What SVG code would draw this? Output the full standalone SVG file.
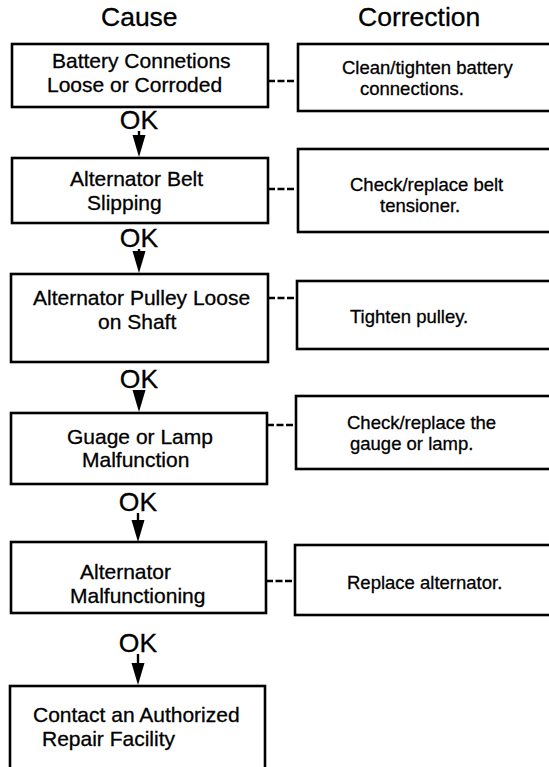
<svg xmlns="http://www.w3.org/2000/svg" width="549" height="767" viewBox="0 0 549 767">
<style>
.box{fill:#fff;stroke:#000;stroke-width:2.6}
.t{font-family:"Liberation Sans",Arial,sans-serif;font-size:21px;fill:#000;stroke:#000;stroke-width:0.3}
.c{font-family:"Liberation Sans",Arial,sans-serif;font-size:18.5px;fill:#000;stroke:#000;stroke-width:0.3}
.h{font-family:"Liberation Sans",Arial,sans-serif;font-size:26.5px;fill:#000;stroke:#000;stroke-width:0.3}
.ok{font-family:"Liberation Sans",Arial,sans-serif;font-size:26.5px;fill:#000;stroke:#000;stroke-width:0.3;text-anchor:middle}
.arr{stroke:#000;stroke-width:2.4;fill:none;marker-end:url(#ah)}
.dash{stroke:#000;stroke-width:2.6;stroke-dasharray:7 2.5;fill:none}
</style>
<defs>
<marker id="ah" markerUnits="userSpaceOnUse" markerWidth="22" markerHeight="14" refX="16" refY="7" orient="auto">
<path d="M0,0.5 L22,7 L0,13.5 z" fill="#000"/>
</marker>
</defs>
<rect width="549" height="767" fill="#fff"/>
<g id="headings">
<text class="h" x="101" y="26">Cause</text>
<text class="h" x="358" y="26">Correction</text>
</g>
<g id="connectors">
<line class="arr" x1="139" y1="131" x2="139" y2="151"/>
<line class="arr" x1="139" y1="249" x2="139" y2="267"/>
<line class="arr" x1="139" y1="390" x2="139" y2="406"/>
<line class="arr" x1="138" y1="513" x2="138" y2="536"/>
<line class="arr" x1="138" y1="654" x2="138" y2="679"/>
<line class="dash" x1="268" y1="81" x2="294" y2="81"/>
<line class="dash" x1="268" y1="189" x2="294" y2="189"/>
<line class="dash" x1="268" y1="298" x2="294" y2="298"/>
<line class="dash" x1="267" y1="425" x2="293" y2="425"/>
<line class="dash" x1="266" y1="581" x2="292" y2="581"/>
<text class="ok" x="139" y="129">OK</text>
<text class="ok" x="139" y="247">OK</text>
<text class="ok" x="139" y="388">OK</text>
<text class="ok" x="138" y="511">OK</text>
<text class="ok" x="138" y="652">OK</text>
</g>
<g id="cause1">
<rect class="box" x="12" y="44" width="256" height="63"/>
<text class="t" x="52" y="68">Battery Connetions</text>
<text class="t" x="47" y="92">Loose or Corroded</text>
</g>
<g id="cause2">
<rect class="box" x="12" y="158" width="256" height="65"/>
<text class="t" x="70" y="186">Alternator Belt</text>
<text class="t" x="87" y="210">Slipping</text>
</g>
<g id="cause3">
<rect class="box" x="11" y="274" width="257" height="88"/>
<text class="t" x="33" y="305">Alternator Pulley Loose</text>
<text class="t" x="98" y="329">on Shaft</text>
</g>
<g id="cause4">
<rect class="box" x="11" y="413" width="256" height="71"/>
<text class="t" x="67" y="444">Guage or Lamp</text>
<text class="t" x="82" y="467">Malfunction</text>
</g>
<g id="cause5">
<rect class="box" x="11" y="542" width="255" height="71"/>
<text class="t" x="80" y="579">Alternator</text>
<text class="t" x="70" y="603">Malfunctioning</text>
</g>
<g id="cause6">
<rect class="box" x="10" y="686" width="255" height="100"/>
<text class="t" x="33" y="722">Contact an Authorized</text>
<text class="t" x="42" y="746">Repair Facility</text>
</g>
<g id="corr1">
<rect class="box" x="298" y="44" width="256" height="67"/>
<text class="c" x="342" y="74">Clean/tighten battery</text>
<text class="c" x="360" y="95">connections.</text>
</g>
<g id="corr2">
<rect class="box" x="298" y="149" width="256" height="83"/>
<text class="c" x="350" y="191">Check/replace belt</text>
<text class="c" x="380" y="212">tensioner.</text>
</g>
<g id="corr3">
<rect class="box" x="297" y="281" width="257" height="68"/>
<text class="c" x="350" y="323">Tighten pulley.</text>
</g>
<g id="corr4">
<rect class="box" x="296" y="396" width="258" height="73"/>
<text class="c" x="347" y="429">Check/replace the</text>
<text class="c" x="350" y="450">gauge or lamp.</text>
</g>
<g id="corr5">
<rect class="box" x="295" y="545" width="259" height="70"/>
<text class="c" x="347" y="589">Replace alternator.</text>
</g>
</svg>
